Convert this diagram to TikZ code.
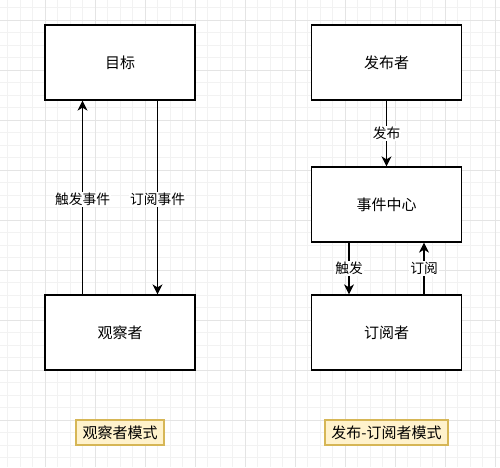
\documentclass[tikz,border=0pt]{standalone}
\usepackage{fontspec}
\setmainfont{Noto Sans CJK SC}
\usetikzlibrary{arrows.meta}
\definecolor{minorgrid}{HTML}{F2F2F2}
\definecolor{majorgrid}{HTML}{E4E4E4}
\definecolor{notefill}{HTML}{FFF2CC}
\definecolor{notedraw}{HTML}{D6B656}
\begin{document}
\begin{tikzpicture}[x=1pt,y=-1pt,
  box/.style={draw=black, line width=1.25pt, fill=white, minimum width=150pt, minimum height=75pt, inner sep=0pt, font=\fontsize{15}{18}\selectfont},
  arr/.style={draw=black, line width=1.25pt, -{Stealth[length=10pt,width=10pt,inset=3pt]}},
  elabel/.style={fill=white, inner sep=1pt, font=\fontsize{13.75}{16}\selectfont},
  note/.style={draw=notedraw, fill=notefill, line width=1.25pt, minimum height=25pt, inner xsep=6.5pt, inner ysep=0pt, font=\fontsize{15}{18}\selectfont}]
\useasboundingbox (0,0) rectangle (500,467);
\fill[white] (0,0) rectangle (500,467);
\foreach \i in {0,...,39} {
  \draw[minorgrid, line width=1pt] (7.5+12.5*\i,0) -- (7.5+12.5*\i,467);
  \draw[minorgrid, line width=1pt] (0,7.5+12.5*\i) -- (500,7.5+12.5*\i);
}
\foreach \i in {0,...,10} {
  \draw[majorgrid, line width=1pt] (-5+50*\i,0) -- (-5+50*\i,467);
  \draw[majorgrid, line width=1pt] (0,20+50*\i) -- (500,20+50*\i);
}
% left: observer pattern
\node[box] (target) at (120,62.5) {目标};
\node[box] (observer) at (120,332.5) {观察者};
\draw[arr] ([xshift=-37.5pt]observer.north) -- node[elabel, pos=0.49] {触发事件} ([xshift=-37.5pt]target.south);
\draw[arr] ([xshift=37.5pt]target.south) -- node[elabel, pos=0.51] {订阅事件} ([xshift=37.5pt]observer.north);
% right: publish-subscribe
\node[box] (publisher) at (386.5,62.5) {发布者};
\node[box] (center) at (386.5,204.5) {事件中心};
\node[box] (subscriber) at (386.5,332.5) {订阅者};
\draw[arr] (publisher.south) -- node[elabel] {发布} (center.north);
\draw[arr] ([xshift=-37.5pt]center.south) -- node[elabel] {触发} ([xshift=-37.5pt]subscriber.north);
\draw[arr] ([xshift=37.5pt]subscriber.north) -- node[elabel] {订阅} ([xshift=37.5pt]center.south);
% notes
\node[note] (note1) at (120,432.5) {观察者模式};
\node[note] (note2) at (386.5,432.5) {发布-订阅者模式};
\end{tikzpicture}
\end{document}
